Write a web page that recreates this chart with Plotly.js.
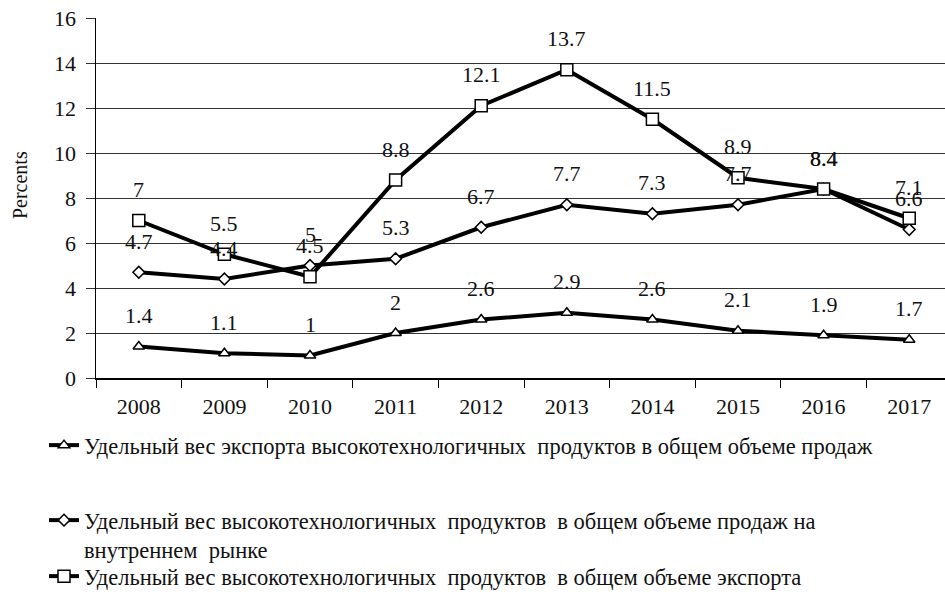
<!DOCTYPE html>
<html>
<head>
<meta charset="utf-8">
<script src="https://cdn.plot.ly/plotly-3.0.1.min.js"></script>
<style>html,body{margin:0;padding:0;background:#fff;}#chart{width:945px;height:608px;}</style>
</head>
<body>
<div id="chart"></div>
<script>
const years = ["2008","2009","2010","2011","2012","2013","2014","2015","2016","2017"];
const exportShareSales = [1.4, 1.1, 1, 2, 2.6, 2.9, 2.6, 2.1, 1.9, 1.7];
const domesticShare = [4.7, 4.4, 5, 5.3, 6.7, 7.7, 7.3, 7.7, 8.4, 6.6];
const exportShare = [7, 5.5, 4.5, 8.8, 12.1, 13.7, 11.5, 8.9, 8.4, 7.1];
const seriesNames = [
  "Удельный вес экспорта высокотехнологичных  продуктов в общем объеме продаж",
  "Удельный вес высокотехнологичных  продуктов  в общем объеме продаж на<br>внутреннем  рынке",
  "Удельный вес высокотехнологичных  продуктов  в общем объеме экспорта"
];
const yTicks = [0, 2, 4, 6, 8, 10, 12, 14, 16];
const yTitle = "Percents";

const FONT = '"Liberation Serif", "Times New Roman", serif';
const seriesData = [exportShareSales, domesticShare, exportShare];
const symbols = ["triangle-up", "diamond", "square"];
const msizes = [10, 9, 12];
const legends = ["legend", "legend2", "legend3"];

const traces = seriesData.map((vals, i) => ({
  type: "scatter",
  mode: "lines+markers",
  x: years,
  y: vals,
  name: seriesNames[i],
  legend: legends[i],
  line: {color: "#000", width: 4},
  marker: {symbol: symbols[i], size: msizes[i], color: "#fff", line: {color: "#000", width: 1.5}},
  cliponaxis: false
}));

const annotations = [];
seriesData.forEach(vals => {
  vals.forEach((v, j) => {
    annotations.push({
      x: j, y: v, xref: "x", yref: "y",
      text: String(v), showarrow: false, yshift: 31,
      font: {family: FONT, size: 22, color: "#111"}
    });
  });
});
annotations.push({
  x: -76 / 849, y: 0.536, xref: "paper", yref: "paper", xanchor: "center", yanchor: "middle",
  text: yTitle, textangle: -90, showarrow: false,
  font: {family: FONT, size: 20, color: "#111"}
});

const legendBase = {
  xref: "container", yref: "container", xanchor: "left", yanchor: "top",
  bgcolor: "rgba(0,0,0,0)", font: {family: FONT, size: 22.5, color: "#111"},
  valign: "top", itemwidth: 30
};

const layout = {
  width: 945, height: 608,
  margin: {l: 96, r: 0, t: 18, b: 230, autoexpand: false},
  paper_bgcolor: "#fff", plot_bgcolor: "#fff",
  font: {family: FONT, color: "#111"},
  xaxis: {
    type: "category", range: [-0.5, 9.418], automargin: false,
    showline: true, linecolor: "#000", linewidth: 1.5,
    ticks: "outside", tickson: "boundaries", ticklen: 8, tickcolor: "#000", tickwidth: 1,
    tickfont: {family: FONT, size: 22, color: "#111"}, tickangle: 0, ticklabelstandoff: 8,
    showgrid: false, zeroline: false, fixedrange: true
  },
  yaxis: {
    range: [0, 16], tickvals: yTicks, ticktext: yTicks.map(String), automargin: false,
    showline: true, linecolor: "#000", linewidth: 1.5,
    ticks: "outside", ticklen: 9, tickcolor: "#333", tickwidth: 1, ticklabelstandoff: 5,
    showgrid: true, gridcolor: "#333", gridwidth: 1,
    zeroline: false,
    tickfont: {family: FONT, size: 22, color: "#111"},
    fixedrange: true
  },
  showlegend: true,
  legend: Object.assign({}, legendBase, {x: 44 / 945, y: 1 - 424 / 608}),
  legend2: Object.assign({}, legendBase, {x: 44 / 945, y: 1 - 499 / 608}),
  legend3: Object.assign({}, legendBase, {x: 44 / 945, y: 1 - 555 / 608}),
  annotations: annotations
};

Plotly.newPlot("chart", traces, layout, {displayModeBar: false, staticPlot: true});
</script>
</body>
</html>
